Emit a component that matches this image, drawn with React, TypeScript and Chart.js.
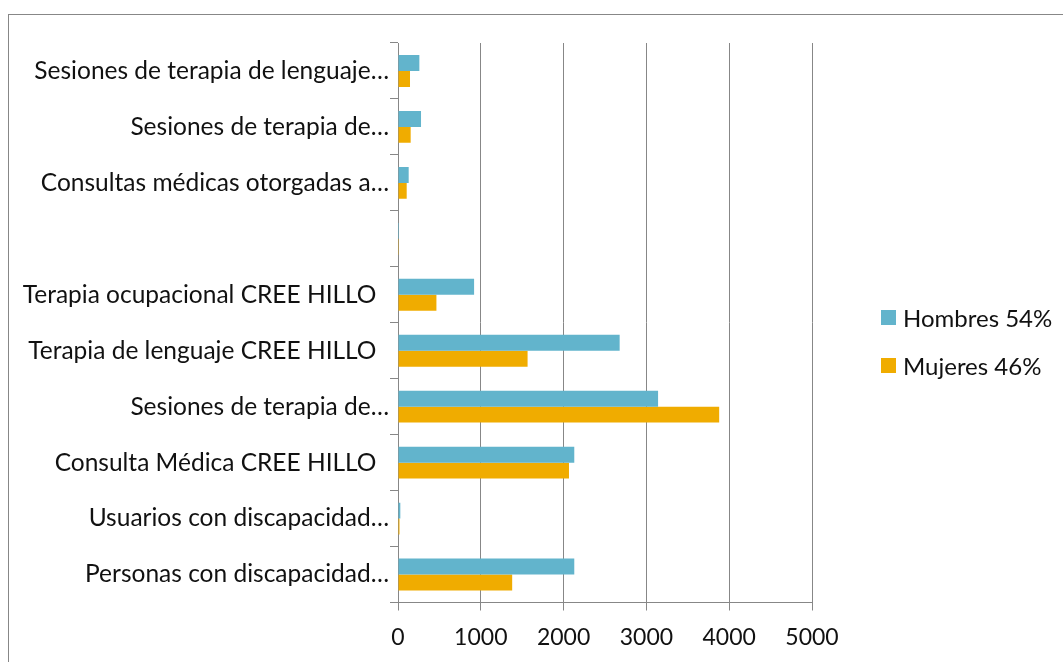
import React, { useEffect, useRef } from "react";
import { Chart, registerables } from "chart.js";

Chart.register(...registerables);

// Categories, listed top to bottom as they appear
const categories: string[] = [
  "Sesiones de terapia de lenguaje…",
  "Sesiones de terapia de…",
  "Consultas médicas otorgadas a…",
  "",
  "Terapia ocupacional CREE HILLO  ",
  "Terapia de lenguaje CREE HILLO  ",
  "Sesiones de terapia de…",
  "Consulta Médica CREE HILLO  ",
  "Usuarios con discapacidad…",
  "Personas con discapacidad…",
];

const seriesNames: string[] = ["Hombres 54%", "Mujeres 46%"];
const hombres: number[] = [258, 278, 129, 12, 919, 2677, 3141, 2129, 28, 2129];
const mujeres: number[] = [145, 153, 105, 10, 464, 1565, 3879, 2065, 18, 1379];

const xMin = 0;
const xMax = 5000;
const xStep = 1000;

const colors = ["#62b4cc", "#f0ac00"];
const FONT = "Lato, 'Open Sans', sans-serif";
const W = 1063;
const H = 662;

export default function App() {
  const ref = useRef<HTMLCanvasElement | null>(null);

  useEffect(() => {
    if (!ref.current) return;
    const chart = new Chart(ref.current, {
      type: "bar",
      data: {
        labels: categories,
        datasets: [
          {
            label: seriesNames[0],
            data: hombres,
            backgroundColor: colors[0],
            borderWidth: 0,
            categoryPercentage: 0.57,
            barPercentage: 1.0,
          },
          {
            label: seriesNames[1],
            data: mujeres,
            backgroundColor: colors[1],
            borderWidth: 0,
            categoryPercentage: 0.57,
            barPercentage: 1.0,
          },
        ],
      },
      options: {
        indexAxis: "y",
        responsive: false,
        animation: false,
        devicePixelRatio: 1,
        layout: { padding: { top: 43, right: 251, left: 0, bottom: 0 } },
        plugins: {
          legend: { display: false },
          tooltip: { enabled: false },
        },
        scales: {
          x: {
            type: "linear",
            position: "bottom",
            min: xMin,
            max: xMax,
            ticks: {
              stepSize: xStep,
              color: "#111",
              font: { family: FONT, size: 23 },
              padding: 13,
              callback: (v: any) => String(v),
            },
            grid: {
              color: "#878787",
              lineWidth: 1,
              tickLength: 8,
              drawTicks: true,
            },
            border: { color: "#878787", width: 1 },
            afterFit: (scale: any) => {
              scale.height = H - 602.5;
            },
          },
          y: {
            type: "category",
            position: "left",
            ticks: {
              color: "#111",
              font: { family: FONT, size: 24.5 },
              padding: 1,
              autoSkip: false,
            },
            grid: {
              display: true,
              drawOnChartArea: false,
              offset: true,
              tickLength: 8,
              color: "#878787",
            },
            border: { color: "#878787", width: 1 },
            afterFit: (scale: any) => {
              scale.width = 398;
            },
          },
        },
      },
    });
    return () => chart.destroy();
  }, []);

  return (
    <div style={{ position: "relative", width: W, height: H, overflow: "hidden", background: "#fff" }}>
      <style>{`html,body{margin:0;padding:0;overflow:hidden;background:#fff}`}</style>
      <div
        style={{
          position: "absolute",
          left: 8,
          top: 14,
          width: 1200,
          height: 800,
          borderLeft: "1px solid #878787",
          borderTop: "1px solid #878787",
        }}
      />
      <canvas ref={ref} width={W} height={H} style={{ position: "absolute", left: 0, top: 0, width: W, height: H }} />
      {seriesNames.map((name, i) => (
        <div
          key={name}
          style={{
            position: "absolute",
            left: 881,
            top: 305 + i * 48.5,
            height: 24,
            display: "flex",
            alignItems: "center",
            fontFamily: FONT,
            fontSize: 24,
            color: "#111",
            whiteSpace: "nowrap",
          }}
        >
          <span style={{ display: "inline-block", width: 15, height: 15, background: colors[i], marginRight: 7 }} />
          <span>{name}</span>
        </div>
      ))}
    </div>
  );
}
